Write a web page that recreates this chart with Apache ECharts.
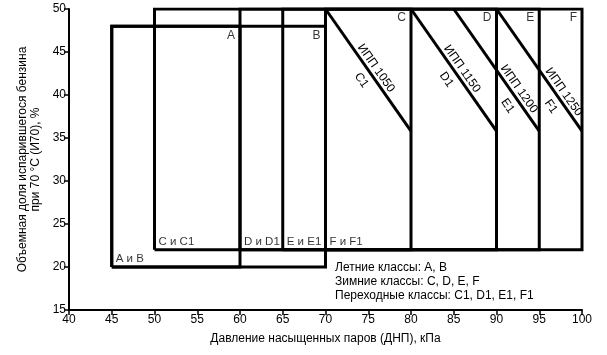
<!DOCTYPE html>
<html>
<head>
<meta charset="utf-8">
<script src="https://cdn.jsdelivr.net/npm/echarts@6/dist/echarts.min.js"></script>
<style>
html,body{margin:0;padding:0;background:#fff;}
#chart{width:607px;height:355px;}
</style>
</head>
<body>
<div id="chart"></div>
<script>
// ---- data ----
const xMin = 40, xMax = 100, xStep = 5;
const yMin = 15, yMax = 50, yStep = 5;

const classNames = ['A', 'B', 'C', 'D', 'E', 'F'];
const boxLeft   = [45, 45, 50, 60, 65, 70];
const boxRight  = [60, 70, 80, 90, 95, 100];
const boxBottom = [20, 20, 22, 22, 22, 22];
const boxTop    = [48, 48, 50, 50, 50, 50];

const bottomLabels = ['A и B', 'C и C1', 'D и D1', 'E и E1', 'F и F1'];
const bottomLabelX = [45, 50, 60, 65, 70];
const bottomLabelY = [20, 22, 22, 22, 22];

const transNames = ['C1', 'D1', 'E1', 'F1'];
const vliNames   = ['ИПП 1050', 'ИПП 1150', 'ИПП 1200', 'ИПП 1250'];
const vliStartX  = [70, 80, 85, 90];
const vliStartY  = [50, 50, 50, 50];
const vliEndX    = [80, 90, 95, 100];
const vliEndY    = [35.8, 35.8, 35.8, 35.8];

const noteLines = [
  'Летние классы: A, B',
  'Зимние классы: C, D, E, F',
  'Переходные классы: C1, D1, E1, F1'
];

const xName = 'Давление насыщенных паров (ДНП), кПа';
const yName = 'Объемная доля испарившегося бензина\nпри 70 °C (И70), %';

// ---- styles / label placement along the diagonals ----
const FONT = '"Liberation Sans", Arial, sans-serif';
const INK = '#000';
const vliTextT  = [0.52, 0.525, 0.69, 0.715];
const nameTextT = [0.53, 0.525, 0.74, 0.746];

const chart = echarts.init(document.getElementById('chart'), null, {renderer: 'canvas'});

const series = [];
classNames.forEach((c, i) => {
  series.push({
    type: 'line', name: 'box' + c, silent: true, symbol: 'none',
    lineStyle: {color: INK, width: 3, join: 'miter'},
    data: [[boxLeft[i], boxBottom[i]], [boxRight[i], boxBottom[i]],
           [boxRight[i], boxTop[i]], [boxLeft[i], boxTop[i]],
           [boxLeft[i], boxBottom[i]]],
    z: 3
  });
});
transNames.forEach((c, i) => {
  series.push({
    type: 'line', name: 'vli' + c, silent: true, symbol: 'none',
    lineStyle: {color: INK, width: 3},
    data: [[vliStartX[i], vliStartY[i]], [vliEndX[i], vliEndY[i]]],
    z: 3
  });
});
series.push({
  type: 'scatter', silent: true, symbolSize: 0,
  data: classNames.map((c, i) => ({value: [boxRight[i], boxTop[i]], name: c})),
  label: {show: true, formatter: p => p.name, position: [-5, 3],
          align: 'right', verticalAlign: 'top',
          fontFamily: FONT, fontSize: 12, color: INK},
  z: 5
});
series.push({
  type: 'scatter', silent: true, symbolSize: 0,
  data: bottomLabels.map((c, i) => ({value: [bottomLabelX[i], bottomLabelY[i]], name: c})),
  label: {show: true, formatter: p => p.name, position: [4, -2],
          align: 'left', verticalAlign: 'bottom',
          fontFamily: FONT, fontSize: 11.5, color: INK},
  z: 5
});

chart.setOption({
  animation: false,
  backgroundColor: '#fff',
  grid: {left: 69, right: 25, top: 9, bottom: 45},
  xAxis: {
    type: 'value', min: xMin, max: xMax, interval: xStep,
    name: xName, nameLocation: 'middle', nameGap: 23,
    nameTextStyle: {fontFamily: FONT, fontSize: 12, color: INK},
    axisLine: {show: true, lineStyle: {color: INK, width: 2}},
    axisTick: {show: true, length: 5, lineStyle: {color: INK, width: 1.5}},
    axisLabel: {fontFamily: FONT, fontSize: 12, color: INK, margin: 4},
    splitLine: {show: false}
  },
  yAxis: {
    type: 'value', min: yMin, max: yMax, interval: yStep,
    name: yName, nameLocation: 'middle', nameGap: 27, nameRotate: 90,
    nameTextStyle: {fontFamily: FONT, fontSize: 12, color: INK, lineHeight: 13},
    axisLine: {show: true, lineStyle: {color: INK, width: 2}},
    axisTick: {show: true, length: 5, lineStyle: {color: INK, width: 1.5}},
    axisLabel: {fontFamily: FONT, fontSize: 12, color: INK, margin: 3},
    splitLine: {show: false}
  },
  series: series
});

const graphics = [];
function addAlong(i, t, text, off) {
  const p0 = chart.convertToPixel({gridIndex: 0}, [vliStartX[i], vliStartY[i]]);
  const p1 = chart.convertToPixel({gridIndex: 0}, [vliEndX[i], vliEndY[i]]);
  const dx = p1[0] - p0[0], dy = p1[1] - p0[1];
  const len = Math.hypot(dx, dy);
  const ux = dx / len, uy = dy / len;
  const nx = uy, ny = -ux;
  const cx = p0[0] + dx * t + nx * off;
  const cy = p0[1] + dy * t + ny * off;
  graphics.push({
    type: 'text', x: cx, y: cy, rotation: -Math.atan2(dy, dx), z: 10,
    style: {text: text, align: 'center', verticalAlign: 'middle',
            font: '12px ' + FONT, fill: INK}
  });
}
transNames.forEach((c, i) => {
  addAlong(i, vliTextT[i], vliNames[i], 7.5);
  addAlong(i, nameTextT[i], c, -11.5);
});
graphics.push({
  type: 'text', x: 335, y: 261, z: 10,
  style: {text: noteLines.join('\n'), font: '12px ' + FONT, fill: INK,
          lineHeight: 14, align: 'left', verticalAlign: 'top'}
});
chart.setOption({graphic: graphics});
</script>
</body>
</html>
